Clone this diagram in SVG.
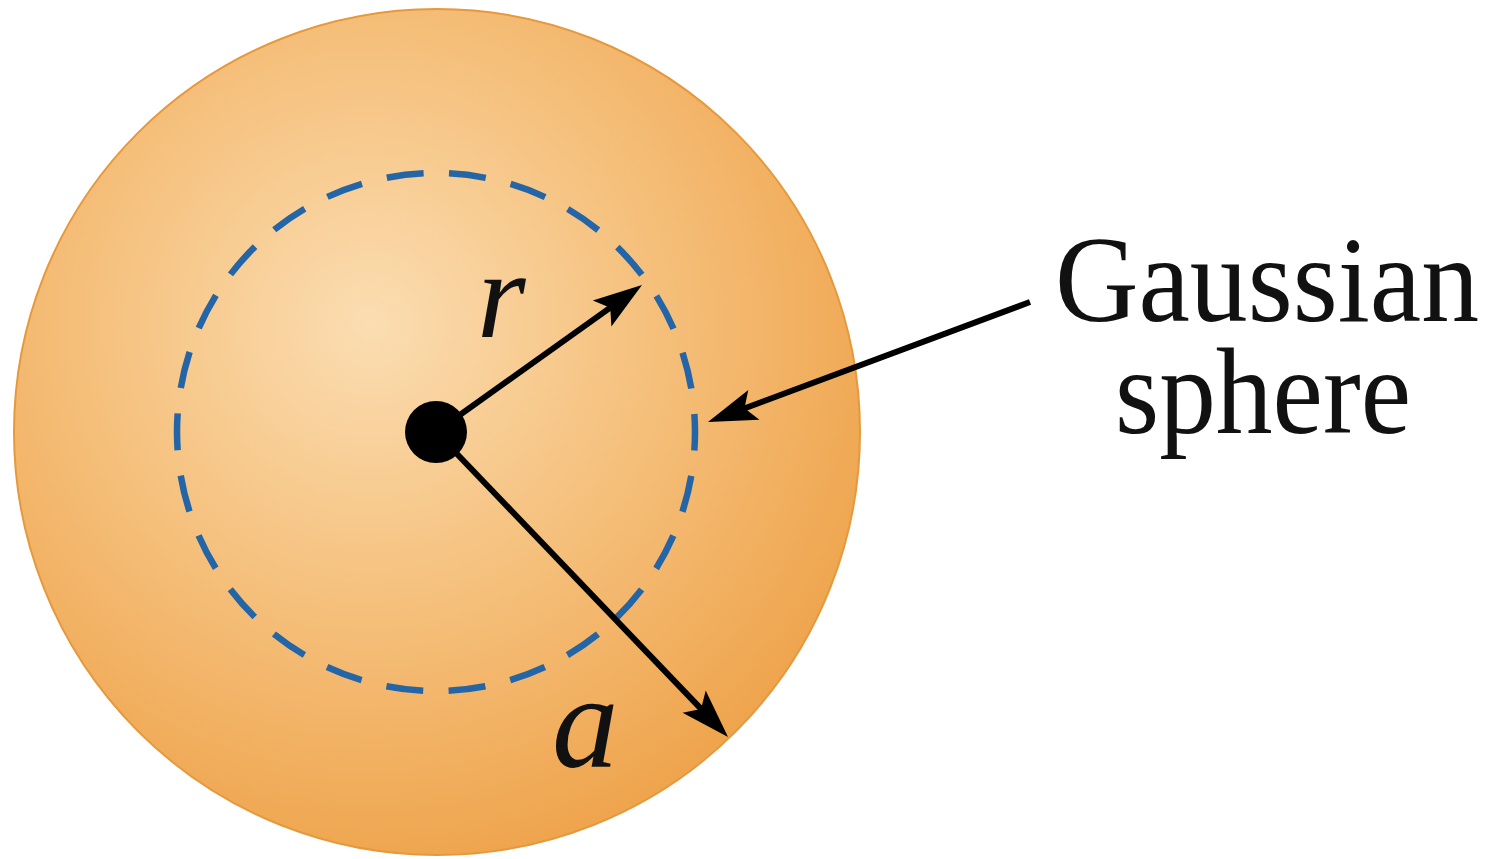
<svg xmlns="http://www.w3.org/2000/svg" width="1497" height="859" viewBox="0 0 1497 859">
<style>
.arrow{stroke:#000;stroke-width:6;fill:none}
.lbl{font-family:"Liberation Serif","Times New Roman",serif;fill:#111}
.it{font-style:italic}
</style>
<defs>
<radialGradient id="sph" cx="370" cy="325" r="540" fx="370" fy="325" gradientUnits="userSpaceOnUse">
<stop offset="0" stop-color="#FBDDB2"/>
<stop offset="0.45" stop-color="#F6C483"/>
<stop offset="1" stop-color="#EFA54E"/>
</radialGradient>
<marker id="ah" markerUnits="userSpaceOnUse" markerWidth="60" markerHeight="40" refX="0" refY="0" orient="auto" overflow="visible">
<path d="M20,0 L-29,-16 L-19,0 L-29,16 Z" fill="#000"/>
</marker>
</defs>
<rect width="1497" height="859" fill="#fff"/>
<g id="sphere">
<circle cx="437" cy="432" r="423" fill="url(#sph)" stroke="#E6993C" stroke-width="2"/>
</g>
<g id="gaussian-surface">
<circle cx="436" cy="432" r="259" fill="none" stroke="#2365A6" stroke-width="6.5" stroke-dasharray="37 25.58" stroke-dashoffset="18.5"/>
</g>
<g id="connectors">
<line class="arrow" x1="436" y1="432" x2="625.7" y2="296.6" marker-end="url(#ah)"/>
<line class="arrow" x1="436" y1="432" x2="714.2" y2="722.6" marker-end="url(#ah)"/>
<line class="arrow" x1="1030" y1="302" x2="726.7" y2="415" marker-end="url(#ah)"/>
</g>
<g id="center">
<circle cx="436" cy="432" r="31" fill="#000"/>
</g>
<g id="label-r"><text class="lbl it" x="477" y="337" font-size="125">r</text></g>
<g id="label-a"><text class="lbl it" x="552" y="767" font-size="133">a</text></g>
<g id="label-gaussian">
<text class="lbl" font-size="122" text-anchor="middle"><tspan x="1267" y="321" textLength="424" lengthAdjust="spacingAndGlyphs">Gaussian</tspan><tspan x="1263" y="433" textLength="296" lengthAdjust="spacingAndGlyphs">sphere</tspan></text>
</g>
</svg>
